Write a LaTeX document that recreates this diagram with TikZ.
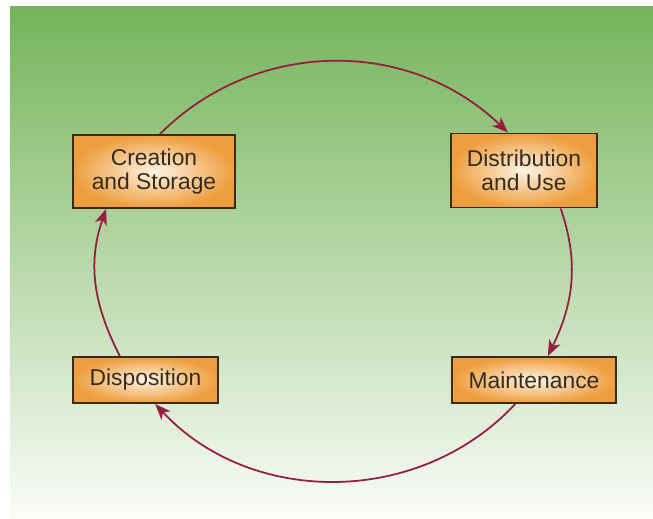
\documentclass[tikz,border=0pt]{standalone}
\usepackage{fontspec}
\setmainfont{Liberation Sans}
\usepackage{tikz}
\usetikzlibrary{arrows.meta,shapes}
\definecolor{boxedge}{HTML}{3B2A16}
\definecolor{boxout}{HTML}{EE9E3E}
\definecolor{boxin}{HTML}{FFF4E4}
\definecolor{cyclered}{HTML}{951D42}
\definecolor{labeltext}{HTML}{342C20}
\definecolor{greentop}{HTML}{75B45A}
\definecolor{greenmid}{HTML}{ADD298}
\definecolor{greenbot}{HTML}{FAFCF8}
\newcommand{\boxlw}{1.1pt}
\newcommand{\arclw}{1pt}

\begin{document}
\begin{tikzpicture}[x=0.02cm,y=0.02cm]
            \tikzset{stage/.style = {draw=boxedge, line width=\boxlw, shading=radial,
                inner color=boxin, outer color=boxout, align=center, text=labeltext,
                font=\fontsize{13}{13.8}\selectfont, inner sep=0pt}}
            \tikzset{loopedge/.style = {draw=cyclered, line width=\arclw,
                -{Stealth[length=9pt,width=7pt,inset=2.5pt]}}}
            \useasboundingbox (0,0) rectangle (653,518);
            \shade[top color=greentop, middle color=greenmid, bottom color=greenbot]
                (10,0) rectangle (653,511);
            
            \node[stage, minimum width=3.24cm, minimum height=1.46cm] (cs) at (154,346.5) {Creation\\and Storage};
            \node[stage, minimum width=2.92cm, minimum height=1.48cm] (du) at (524,347.5) {Distribution\\and Use};
            \node[stage, minimum width=3.28cm, minimum height=0.92cm] (mt) at (534,138) {Maintenance};
            \node[stage, minimum width=2.90cm, minimum height=0.92cm] (dp) at (145.5,138) {Disposition};
            
            \draw[loopedge] (cs.81) to[out=45, in=136] (du.113);
            \draw[loopedge] (du.-46) to[out=-71, in=64] (mt.60);
            \draw[loopedge] (mt.-128) to[out=227, in=-47] (dp.-68);
            \draw[loopedge] (dp.137) to[out=117, in=251] (cs.218);
        \end{tikzpicture}
\end{document}
